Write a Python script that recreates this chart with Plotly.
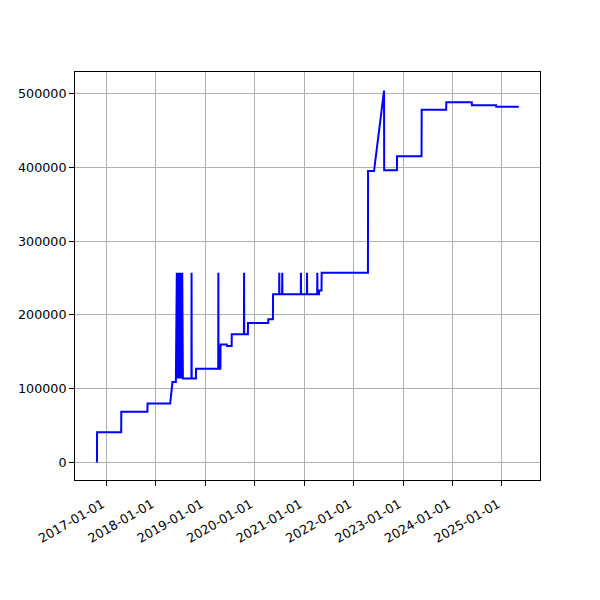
import pandas as pd
import plotly.graph_objects as go

dates = [
    "2016-10-17", "2016-10-23", "2016-10-24",
    "2017-04-20", "2017-04-21",
    "2017-10-31", "2017-11-01",
    "2018-04-17", "2018-05-04", "2018-05-29",
    "2018-06-05", "2018-06-07", "2018-06-09", "2018-06-11", "2018-06-13",
    "2018-06-15", "2018-06-17", "2018-06-19", "2018-06-21", "2018-06-23",
    "2018-06-25", "2018-06-27", "2018-06-29", "2018-07-01", "2018-07-03",
    "2018-07-05", "2018-07-07", "2018-07-09", "2018-07-11", "2018-07-13",
    "2018-07-15", "2018-07-17", "2018-07-19", "2018-07-20",
    "2018-09-21", "2018-09-22", "2018-09-23",
    "2018-10-24", "2018-10-25",
    "2019-04-07", "2019-04-08", "2019-04-09",
    "2019-04-23", "2019-04-24",
    "2019-06-10", "2019-06-11",
    "2019-07-15", "2019-07-16",
    "2019-10-14", "2019-10-15", "2019-10-16",
    "2019-11-12", "2019-11-13",
    "2020-04-10", "2020-04-11",
    "2020-05-15", "2020-05-16",
    "2020-06-30", "2020-07-01", "2020-07-02",
    "2020-07-22", "2020-07-23", "2020-07-24",
    "2020-12-07", "2020-12-08", "2020-12-09",
    "2021-01-21", "2021-01-22", "2021-01-23",
    "2021-04-07", "2021-04-08", "2021-04-09",
    "2021-04-21", "2021-04-22",
    "2021-05-09", "2021-05-10",
    "2022-04-17", "2022-04-18",
    "2022-06-01", "2022-08-14", "2022-08-15",
    "2022-11-17", "2022-11-18",
    "2023-05-18", "2023-05-19",
    "2023-11-16", "2023-11-17",
    "2024-05-23", "2024-05-24",
    "2024-11-19", "2024-11-20",
    "2025-05-06",
]
values = [
    1500, 1500, 41000,
    41000, 69000,
    69000, 80000,
    80000, 109000, 109000,
    257000, 114000, 257000, 114000, 257000,
    114000, 257000, 114000, 257000, 114000,
    257000, 114000, 257000, 114000, 257000,
    114000, 257000, 114000, 257000, 114000,
    257000, 114000, 257000, 114000,
    114000, 257000, 114000,
    114000, 127000,
    127000, 257000, 127000,
    127000, 160000,
    160000, 158000,
    158000, 174000,
    174000, 257000, 174000,
    174000, 189000,
    189000, 194000,
    194000, 228000,
    228000, 257000, 228000,
    228000, 257000, 228000,
    228000, 257000, 228000,
    228000, 257000, 228000,
    228000, 257000, 228000,
    228000, 233000,
    233000, 257000,
    257000, 395000,
    395000, 504000, 396000,
    396000, 415000,
    415000, 478000,
    478000, 488000,
    488000, 484000,
    484000, 482000,
    482000,
]
y_ticks = [0, 100000, 200000, 300000, 400000, 500000]
x_ticks = ["2017-01-01", "2018-01-01", "2019-01-01", "2020-01-01", "2021-01-01",
           "2022-01-01", "2023-01-01", "2024-01-01", "2025-01-01"]

d = pd.to_datetime(pd.Series(dates))
span = d.max() - d.min()
x_range = [d.min() - span * 0.05, d.max() + span * 0.05]
vmin, vmax = min(values), max(values)
vspan = vmax - vmin
y_range = [vmin - vspan * 0.05, vmax + vspan * 0.05]

fig = go.Figure()
fig.add_trace(go.Scatter(x=d, y=values, mode="lines",
                         line=dict(color="blue", width=2), showlegend=False))

axis_common = dict(
    showline=True, linecolor="black", linewidth=1, mirror=True,
    showgrid=True, gridcolor="#b0b0b0", gridwidth=1,
    ticks="outside", ticklen=5, tickwidth=1, tickcolor="black",
    zeroline=False, automargin=False,
    tickfont=dict(family="DejaVu Sans", size=12.7, color="black"),
)
fig.update_xaxes(range=x_range, tickvals=pd.to_datetime(x_ticks), ticktext=x_ticks,
                 tickangle=-30, ticklabelstandoff=6, ticklabelshift=-4, **axis_common)
fig.update_yaxes(range=y_range, tickvals=y_ticks, ticktext=[str(v) for v in y_ticks],
                 **axis_common)
fig.update_layout(
    width=600, height=600,
    margin=dict(l=67, r=68, t=64, b=128),
    plot_bgcolor="white", paper_bgcolor="white",
)
fig.write_html("out.html")
